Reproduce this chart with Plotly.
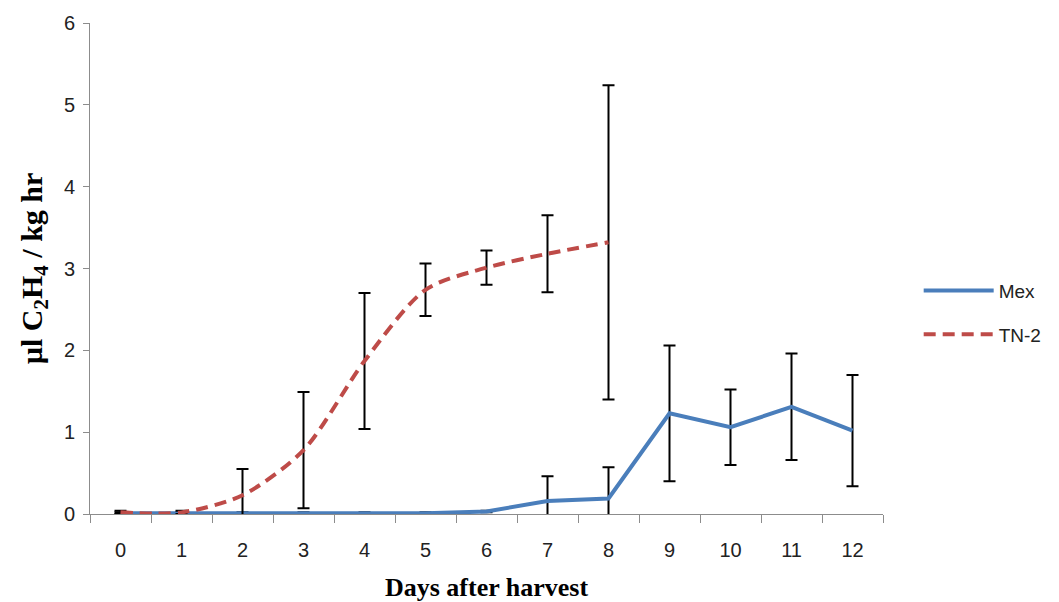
import plotly.graph_objects as go

days = [str(d) for d in range(13)]
mex_vals = [0.01, 0.01, 0.01, 0.01, 0.01, 0.01, 0.03, 0.16, 0.19, 1.23, 1.06, 1.31, 1.02]
mex_err = [0.01, 0.01, 0.01, 0.01, 0.01, 0.01, 0.01, 0.30, 0.38, 0.83, 0.46, 0.65, 0.68]
tn2_days = [str(d) for d in range(9)]
tn2_vals = [0.02, 0.02, 0.23, 0.78, 1.87, 2.74, 3.01, 3.18, 3.32]
tn2_err = [0.02, 0.02, 0.32, 0.71, 0.83, 0.32, 0.21, 0.47, 1.92]

fig = go.Figure()
fig.add_trace(go.Scatter(
    x=days, y=mex_vals, name="Mex", mode="lines", legendgroup="a",
    line=dict(color="#4a7ebb", width=4),
    error_y=dict(type="data", array=mex_err, color="black", thickness=2, width=6),
))
fig.add_trace(go.Scatter(
    x=tn2_days, y=tn2_vals, name="TN-2", mode="lines", legendgroup="b",
    line=dict(color="#be4b48", width=4, dash="12px,7px", shape="spline", smoothing=0.8),
    error_y=dict(type="data", array=tn2_err, color="black", thickness=2, width=6),
))

fig.update_layout(
    width=1051, height=594,
    margin=dict(l=82, r=172, t=15, b=88),
    paper_bgcolor="white", plot_bgcolor="white",
    font=dict(family="Liberation Sans, Arial", size=19, color="#222"),
    showlegend=True,
    legend=dict(x=1.045, y=0.41, xanchor="left", yanchor="middle",
                font=dict(size=19, color="#222"), itemwidth=70,
                tracegroupgap=16, bgcolor="rgba(0,0,0,0)"),
)
fig.update_xaxes(
    type="category", categoryorder="array", categoryarray=days,
    range=[-0.5, 12.5], automargin=False,
    showline=True, linecolor="#8c8c8c", linewidth=1,
    ticks="outside", tickson="boundaries", ticklen=8, tickcolor="#8c8c8c",
    ticklabelstandoff=18,
    showgrid=False, zeroline=False,
    tickfont=dict(size=20, color="#222"),
    title=dict(text="<b>Days after harvest</b>",
               font=dict(family="Liberation Serif, Times New Roman", size=26, color="black"),
               standoff=18),
)
fig.update_yaxes(
    range=[0, 6], dtick=1, automargin=False,
    showline=True, linecolor="#8c8c8c", linewidth=1,
    ticks="outside", ticklen=6, tickcolor="#8c8c8c",
    ticklabelstandoff=4,
    showgrid=False, zeroline=False,
    tickfont=dict(size=20, color="#222"),
    title=dict(text="<b>µl C<sub>2</sub>H<sub>4</sub> / kg hr</b>",
               font=dict(family="Liberation Serif, Times New Roman", size=30, color="black"),
               standoff=12),
)

fig.write_html("out.html")
